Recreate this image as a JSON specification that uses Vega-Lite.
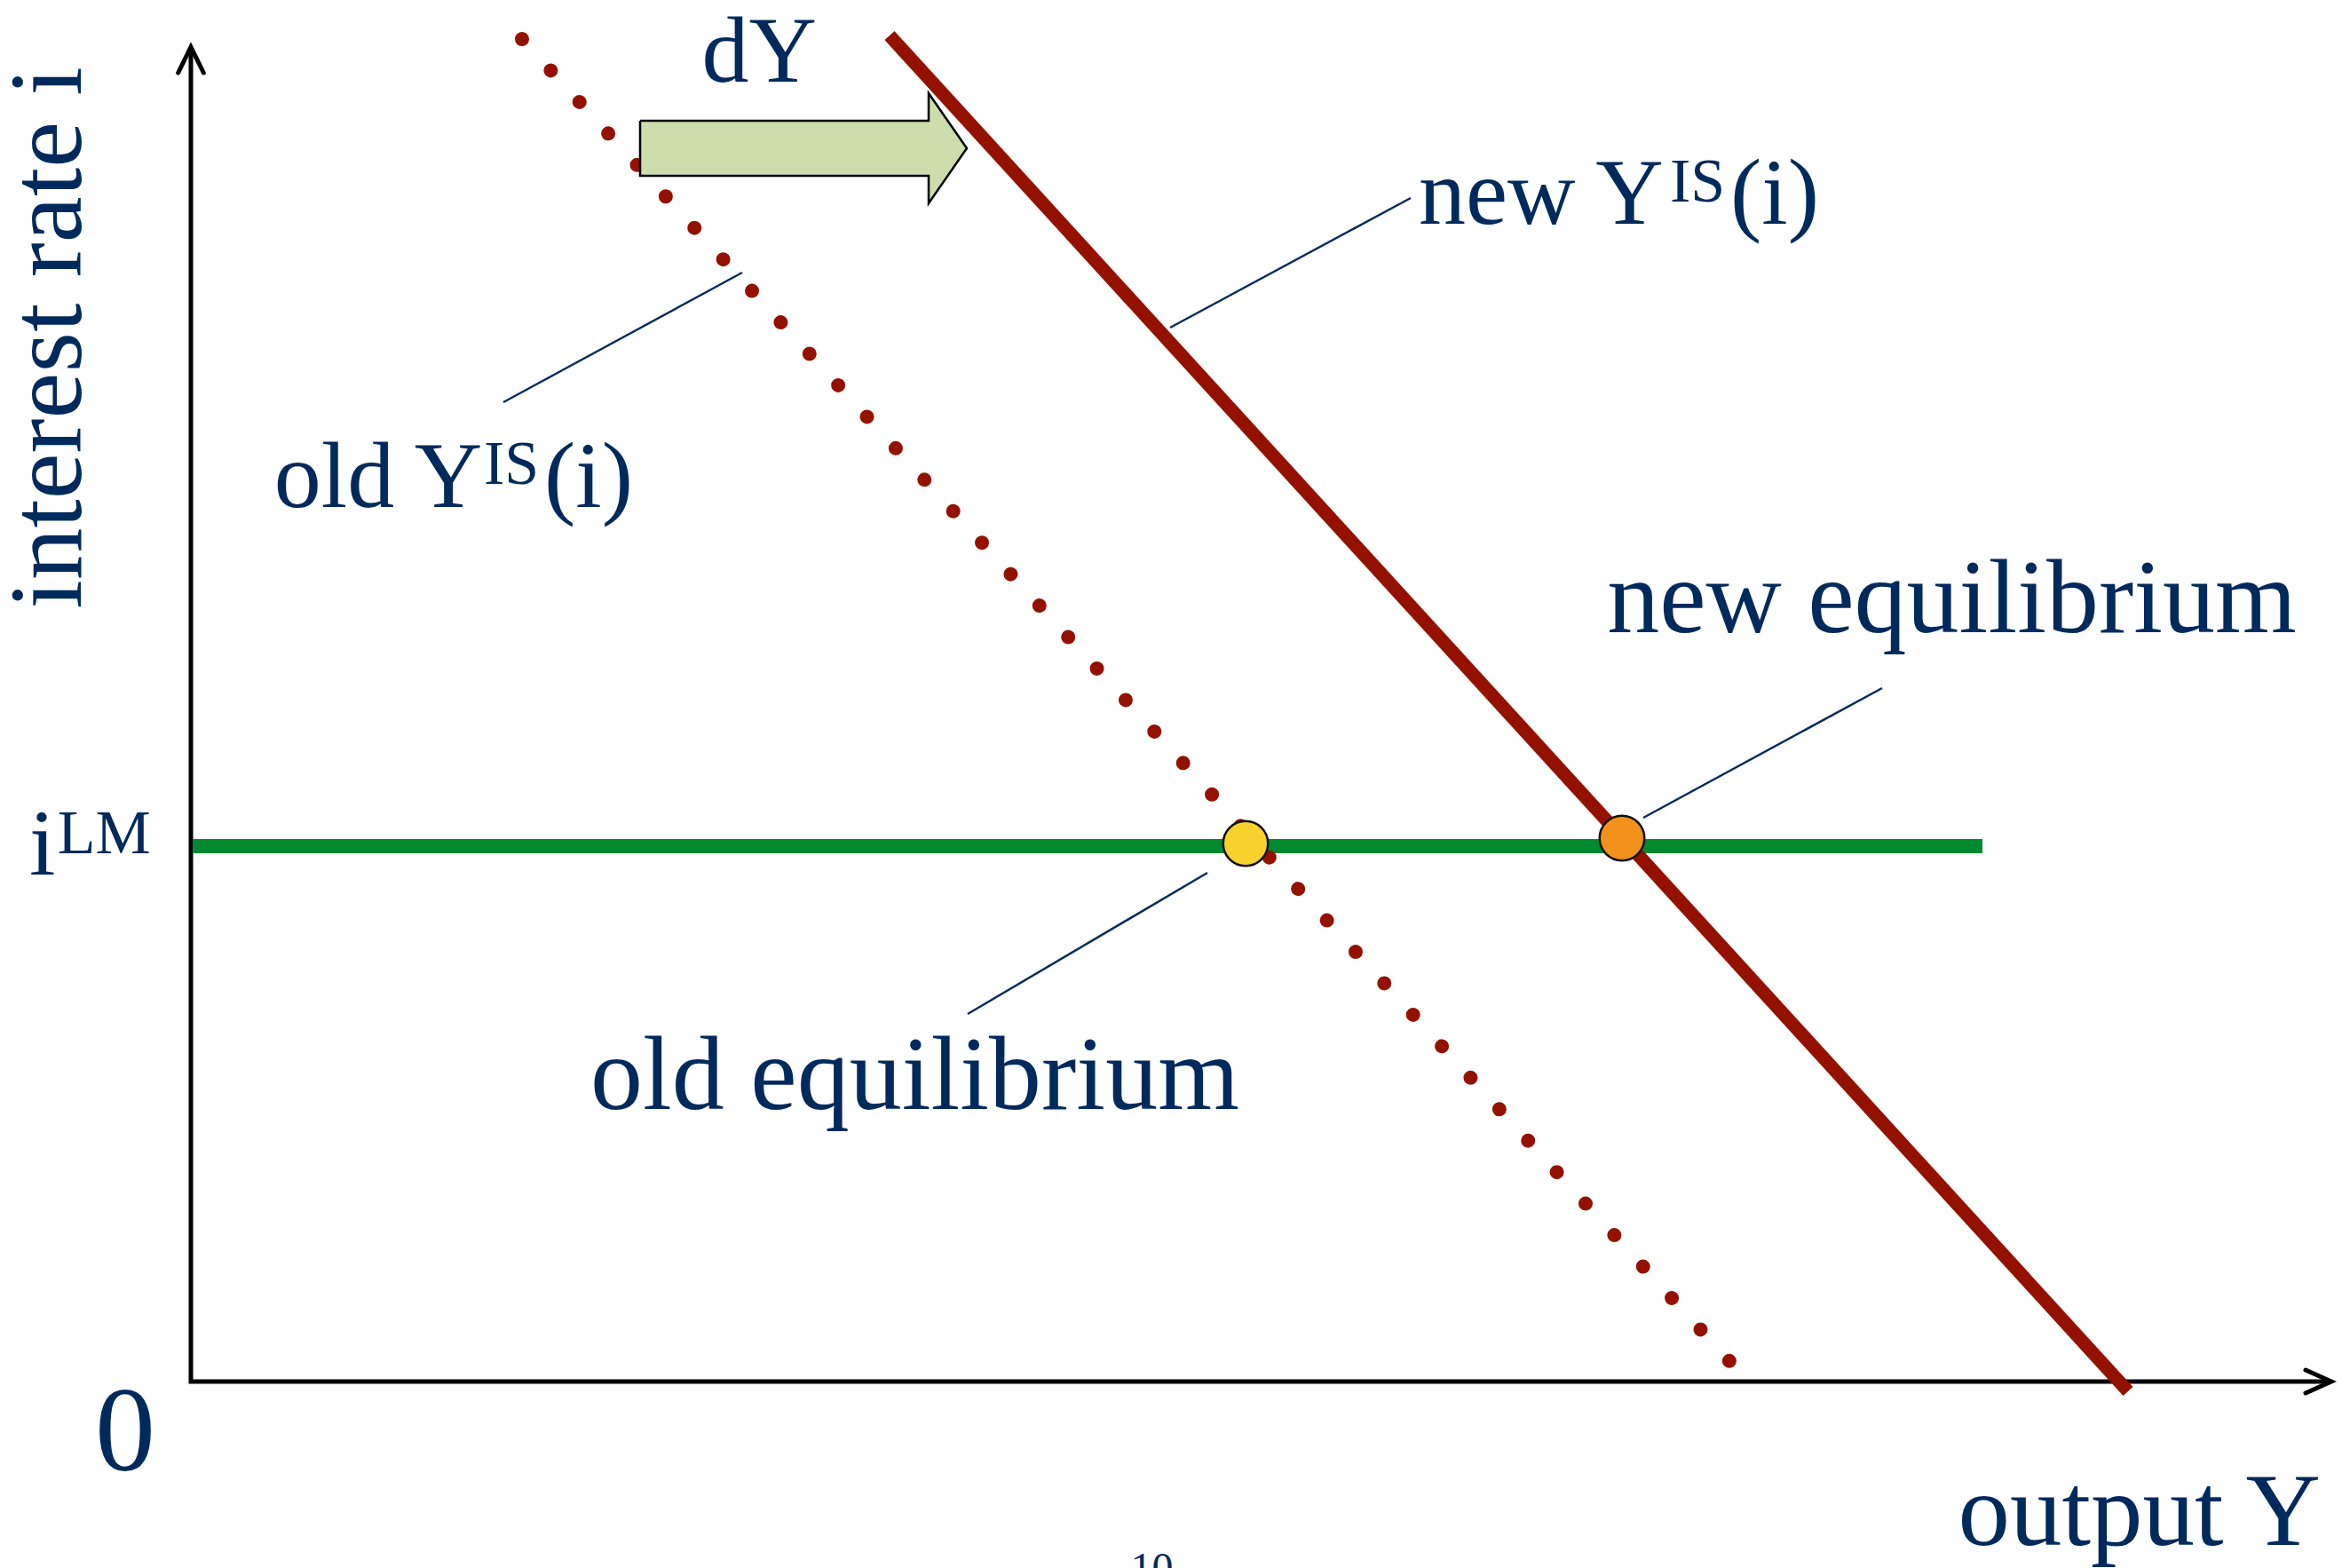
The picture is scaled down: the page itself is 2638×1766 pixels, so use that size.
{
  "$schema": "https://vega.github.io/schema/vega-lite/v6.json",
  "width": 2638,
  "height": 1766,
  "autosize": {"type": "none"},
  "padding": 0,
  "background": "white",
  "config": {"view": {"stroke": null}},
  "datasets": {
    "axes": [{"x": 0, "y": 14.98, "o": 1}, {"x": 0, "y": 0, "o": 2}, {"x": 24.06, "y": 0, "o": 3}],
    "heads": [
      {"seg": "y", "x": -0.143, "y": 14.74, "o": 1}, {"seg": "y", "x": 0, "y": 15.03, "o": 2}, {"seg": "y", "x": 0.143, "y": 14.74, "o": 3},
      {"seg": "x", "x": 23.82, "y": 0.13, "o": 1}, {"seg": "x", "x": 24.11, "y": 0, "o": 2}, {"seg": "x", "x": 23.82, "y": -0.13, "o": 3}
    ],
    "lm": [{"x": 0.02, "y": 6.03}, {"x": 20.18, "y": 6.03}],
    "oldIS": [{"x": 3.73, "y": 15.12}, {"x": 17.33, "y": 0.23}],
    "newIS": [{"x": 7.87, "y": 15.16}, {"x": 21.82, "y": -0.11}],
    "eq": [{"x": 11.88, "y": 6.06, "eq": "old"}, {"x": 16.12, "y": 6.12, "eq": "new"}],
    "arrowBody": [{"x": 5.06, "x2": 8.31, "top": 14.20, "bot": 13.58}],
    "arrowHead": [{"x": 8.31, "top": 14.51, "bot": 13.27}, {"x": 8.74, "top": 13.89, "bot": 13.89}],
    "arrowOutline": [
      {"x": 5.06, "y": 14.20, "o": 1},
      {"x": 8.31, "y": 14.20, "o": 2},
      {"x": 8.31, "y": 14.51, "o": 3},
      {"x": 8.74, "y": 13.89, "o": 4},
      {"x": 8.31, "y": 13.27, "o": 5},
      {"x": 8.31, "y": 13.58, "o": 6},
      {"x": 5.06, "y": 13.58, "o": 7},
      {"x": 5.06, "y": 14.20, "o": 8}
    ],
    "leaders": [
      {"seg": "oldIS", "x": 3.52, "y": 11.03}, {"seg": "oldIS", "x": 6.21, "y": 12.49},
      {"seg": "newIS", "x": 11.03, "y": 11.87}, {"seg": "newIS", "x": 13.74, "y": 13.33},
      {"seg": "newEq", "x": 16.36, "y": 6.35}, {"seg": "newEq", "x": 19.05, "y": 7.81},
      {"seg": "oldEq", "x": 8.75, "y": 4.14}, {"seg": "oldEq", "x": 11.45, "y": 5.73}
    ],
    "mainText": [
      {"t": "dY", "x": 5.756, "y": 14.645},
      {"t": "new Y", "x": 13.83, "y": 13.045},
      {"t": "(i)", "x": 17.34, "y": 13.045},
      {"t": "old Y", "x": 0.937, "y": 9.855},
      {"t": "(i)", "x": 3.98, "y": 9.855},
      {"t": "i", "x": -1.82, "y": 5.71}
    ],
    "supText": [
      {"t": "IS", "x": 16.66, "y": 13.29},
      {"t": "IS", "x": 3.30, "y": 10.114},
      {"t": "LM", "x": -1.503, "y": 5.946}
    ],
    "eqText": [
      {"t": "new equilibrium", "x": 19.835, "y": 8.44},
      {"t": "old equilibrium", "x": 8.155, "y": 3.074}
    ],
    "outText": [{"t": "output Y", "x": 23.99, "y": -1.84}],
    "zeroText": [{"t": "0", "x": -0.74, "y": -1.0}],
    "yTitle": [{"t": "interest rate i", "x": -1.24, "y": 11.755}],
    "pageNo": [{"t": "10", "x": 10.825, "y": -2.26}]
  },
  "encoding": {
    "x": {"field": "x", "type": "quantitative", "scale": {"domain": [-2.15, 24.23], "nice": false, "zero": false}, "axis": null},
    "y": {"field": "y", "type": "quantitative", "scale": {"domain": [-2.10, 15.56], "nice": false, "zero": false}, "axis": null}
  },
  "layer": [
    {
      "data": {"name": "axes"},
      "mark": {"type": "line", "color": "black", "strokeWidth": 5, "strokeJoin": "miter", "strokeCap": "butt"},
      "encoding": {"order": {"field": "o", "type": "quantitative"}}
    },
    {
      "data": {"name": "heads"},
      "mark": {"type": "line", "color": "black", "strokeWidth": 5, "strokeJoin": "miter", "strokeCap": "round"},
      "encoding": {"detail": {"field": "seg"}, "order": {"field": "o", "type": "quantitative"}}
    },
    {
      "data": {"name": "lm"},
      "mark": {"type": "line", "color": "#00892F", "strokeWidth": 16, "strokeCap": "butt"},
      "encoding": {}
    },
    {
      "data": {"name": "oldIS"},
      "mark": {"type": "line", "color": "#941100", "strokeWidth": 16, "strokeCap": "round", "strokeDash": [0.01, 48.0]},
      "encoding": {}
    },
    {
      "data": {"name": "newIS"},
      "mark": {"type": "line", "color": "#941100", "strokeWidth": 15, "strokeCap": "butt"},
      "encoding": {}
    },
    {
      "data": {"name": "arrowBody"},
      "mark": {"type": "rect", "fill": "#CDDDAB", "strokeWidth": 0},
      "encoding": {
        "x2": {"field": "x2"},
        "y": {"field": "top", "type": "quantitative"},
        "y2": {"field": "bot"}
      }
    },
    {
      "data": {"name": "arrowHead"},
      "mark": {"type": "area", "fill": "#CDDDAB", "fillOpacity": 1, "strokeWidth": 0},
      "encoding": {
        "y": {"field": "top", "type": "quantitative"},
        "y2": {"field": "bot"}
      }
    },
    {
      "data": {"name": "arrowOutline"},
      "mark": {"type": "line", "color": "black", "strokeWidth": 2.5, "strokeJoin": "miter"},
      "encoding": {"order": {"field": "o", "type": "quantitative"}}
    },
    {
      "data": {"name": "eq"},
      "mark": {"type": "point", "shape": "circle", "filled": true, "size": 2550, "stroke": "#111111", "strokeWidth": 2.5, "opacity": 1},
      "encoding": {
        "fill": {"field": "eq", "type": "nominal", "scale": {"domain": ["old", "new"], "range": ["#F7D22C", "#F2921D"]}, "legend": null}
      }
    },
    {
      "data": {"name": "leaders"},
      "mark": {"type": "line", "color": "#0A2A5A", "strokeWidth": 2.5},
      "encoding": {"detail": {"field": "seg"}}
    },
    {
      "data": {"name": "mainText"},
      "mark": {"type": "text", "font": "Liberation Serif", "fontSize": 106, "align": "left", "baseline": "alphabetic", "color": "#002A5C"},
      "encoding": {"text": {"field": "t"}}
    },
    {
      "data": {"name": "supText"},
      "mark": {"type": "text", "font": "Liberation Serif", "fontSize": 70, "align": "left", "baseline": "alphabetic", "color": "#002A5C"},
      "encoding": {"text": {"field": "t"}}
    },
    {
      "data": {"name": "eqText"},
      "mark": {"type": "text", "font": "Liberation Serif", "fontSize": 118, "align": "center", "baseline": "alphabetic", "color": "#002A5C"},
      "encoding": {"text": {"field": "t"}}
    },
    {
      "data": {"name": "outText"},
      "mark": {"type": "text", "font": "Liberation Serif", "fontSize": 117, "align": "right", "baseline": "alphabetic", "color": "#002A5C"},
      "encoding": {"text": {"field": "t"}}
    },
    {
      "data": {"name": "zeroText"},
      "mark": {"type": "text", "font": "Liberation Serif", "fontSize": 136, "align": "center", "baseline": "alphabetic", "color": "#002A5C"},
      "encoding": {"text": {"field": "t"}}
    },
    {
      "data": {"name": "yTitle"},
      "mark": {"type": "text", "font": "Liberation Serif", "fontSize": 117, "align": "center", "baseline": "alphabetic", "angle": 270, "color": "#002A5C"},
      "encoding": {"text": {"field": "t"}}
    },
    {
      "data": {"name": "pageNo"},
      "mark": {"type": "text", "font": "Liberation Serif", "fontSize": 48, "align": "center", "baseline": "alphabetic", "color": "#002A5C"},
      "encoding": {"text": {"field": "t"}}
    }
  ]
}
